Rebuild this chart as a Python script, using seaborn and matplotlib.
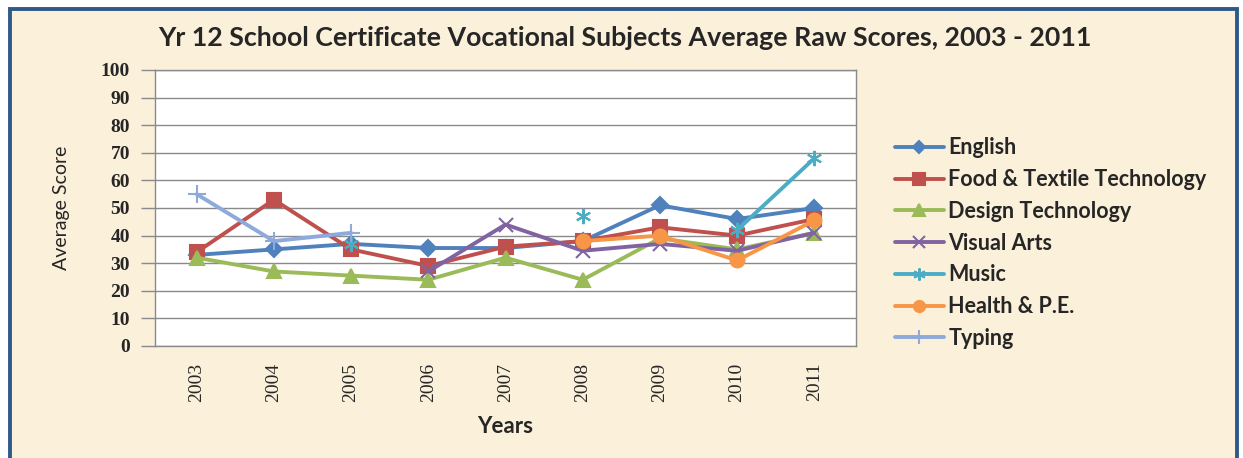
import numpy as np
import pandas as pd
import matplotlib
matplotlib.use("Agg")
import matplotlib.pyplot as plt
from matplotlib.patches import Rectangle
import seaborn as sns

# Dados
anos = ['2003', '2004', '2005', '2006', '2007', '2008', '2009', '2010', '2011']
nan = np.nan
english = [33, 35, 37, 35.5, 35.5, 38, 51, 46, 50]
food_textile = [34, 53, 35, 29, 36, 38, 43, 40, 46]
design_tech = [32, 27, 25.5, 24, 32, 24, 39, 35, 41]
visual_arts = [nan, nan, nan, 27, 44, 34.5, 37, 34.5, 41]
music = [nan, nan, 37, nan, nan, 47, nan, 42, 68]
health_pe = [nan, nan, nan, nan, nan, 38, 40, 31, 45.5]
typing = [55, 38, 41, nan, nan, nan, nan, nan, nan]

materias = ['English', 'Food & Textile Technology', 'Design Technology',
            'Visual Arts', 'Music', 'Health & P.E.', 'Typing']
series = [english, food_textile, design_tech, visual_arts, music, health_pe, typing]
cores = ['#4F81BD', '#C0504D', '#9BBB59', '#8064A2', '#4BACC6', '#F79646', '#8EA9DB']
marcadores = ['D', 's', '^', 'x', (6, 2, 0), 'o', '+']
tamanhos = [8, 10, 10, 10, 11, 10, 13]

# Tabela longa; 'seg' quebra a linha onde falta valor
linhas = []
for nome, valores in zip(materias, series):
    seg = 0
    for i, (ano, v) in enumerate(zip(anos, valores)):
        if pd.isna(v):
            seg += 1
            continue
        linhas.append({'pos': i, 'ano': ano, 'materia': nome, 'score': v, 'seg': seg})
df = pd.DataFrame(linhas)

sns.set_style('white')
plt.rcParams['font.family'] = ['Lato', 'DejaVu Sans']

fig = plt.figure(figsize=(12.43, 4.58), dpi=100, facecolor='white')
# moldura bege com borda azul
fig.patches.append(Rectangle((10 / 1243, -0.2), 1227 / 1243, 1.2 - 9 / 458,
                             transform=fig.transFigure, facecolor='#FBF0DA',
                             edgecolor='#2E5A8A', linewidth=2.8, zorder=-10))

ax = fig.add_axes([155 / 1243, 1 - 346 / 458, 701 / 1243, 276 / 458])
ax.set_facecolor('white')

handles = []
for nome, cor, mk, ms in zip(materias, cores, marcadores, tamanhos):
    n0 = len(ax.lines)
    sns.lineplot(data=df[df['materia'] == nome], x='pos', y='score',
                 units='seg', estimator=None, color=cor, marker=mk,
                 markersize=ms, markeredgewidth=1.5, markeredgecolor=cor,
                 linewidth=2.8, legend=False, ax=ax)
    handles.append(ax.lines[n0])

ax.set_xlim(-0.54, len(anos) - 0.46)
ax.set_ylim(0, 100)
ax.set_yticks(range(0, 101, 10))
ax.set_xticks(range(len(anos)))
ax.set_xticklabels(anos, rotation=90, family='Liberation Serif', fontsize=14)
ax.set_yticklabels([str(t) for t in range(0, 101, 10)], family='Liberation Serif',
                   fontsize=14, fontweight='bold')
ax.yaxis.grid(True, color='#8A8A8A', linewidth=1)
ax.set_axisbelow(True)
for s in ax.spines.values():
    s.set_color('#8A8A8A')
    s.set_linewidth(1)
ax.tick_params(axis='y', length=10, width=1, color='#8A8A8A', pad=8, left=True)
ax.tick_params(axis='x', length=0, pad=12)

ax.set_xlabel('Years', fontsize=16, fontweight='bold', labelpad=10)
ax.set_ylabel('Average Score', fontsize=14, labelpad=22)

fig.text(625 / 1243, 1 - 38 / 458,
         'Yr 12 School Certificate Vocational Subjects Average Raw Scores, 2003 - 2011',
         ha='center', va='center', fontsize=19.3, fontweight='bold')

ax.legend(handles, materias, loc='upper left', bbox_to_anchor=((886 - 155) / 701, 0.787),
          frameon=False, prop={'weight': 'bold', 'size': 15.5},
          handlelength=2.3, handletextpad=0.2, labelspacing=0.5, markerscale=0.8,
          borderaxespad=0)

fig.savefig('out.png', dpi=100, facecolor=fig.get_facecolor())
